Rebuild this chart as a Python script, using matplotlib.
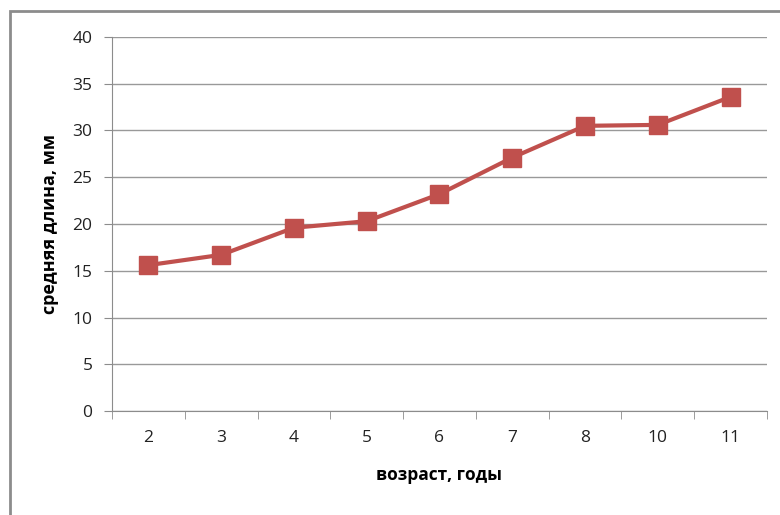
import matplotlib.pyplot as plt
from matplotlib.patches import Rectangle

# data
ages = ['2', '3', '4', '5', '6', '7', '8', '10', '11']
mean_len = [15.6, 16.7, 19.6, 20.3, 23.2, 27.1, 30.5, 30.6, 33.6]

plt.rcParams['font.family'] = ['Open Sans', 'DejaVu Sans']

fig = plt.figure(figsize=(7.8, 5.15), dpi=100)
ax = fig.add_axes([112/780, 104/515, 655/780, 374/515])

# chart border (clipped at right/bottom like the source)
fig.patches.append(Rectangle((10/780, -0.1), 1.0, 1 - 11/515 + 0.1,
                             transform=fig.transFigure, fill=False,
                             edgecolor='#8c8c8c', linewidth=2))

x = list(range(len(ages)))
ax.plot(x, mean_len, color='#C0504D', linewidth=3, marker='s',
        markersize=13, markerfacecolor='#C0504D', markeredgecolor='#C0504D',
        zorder=3)

ax.set_xlim(-0.5, len(ages) - 0.5)
ax.set_ylim(0, 40)
ax.set_yticks(range(0, 41, 5))
ax.yaxis.grid(True, color='#999999', linewidth=1)
ax.set_axisbelow(True)

ax.set_xticks(x)
ax.set_xticklabels(ages)
ax.set_xticks([i - 0.5 for i in range(len(ages) + 1)], minor=True)
ax.tick_params(axis='x', which='major', length=0, pad=14, labelsize=12.5, colors='#222222')
ax.tick_params(axis='x', which='minor', length=6, color='#8c8c8c', direction='out')
ax.tick_params(axis='y', length=6, color='#8c8c8c', pad=8, labelsize=12.5, labelcolor='#222222')

for s in ['top', 'right']:
    ax.spines[s].set_visible(False)
ax.spines['left'].set_color('#8c8c8c')
ax.spines['bottom'].set_color('#8c8c8c')

ax.set_xlabel('возраст, годы', fontsize=12.5, fontweight='bold', labelpad=14)
ax.set_ylabel('средняя длина, мм', fontsize=13, fontweight='bold', labelpad=10)

fig.savefig('out.png', dpi=100)
